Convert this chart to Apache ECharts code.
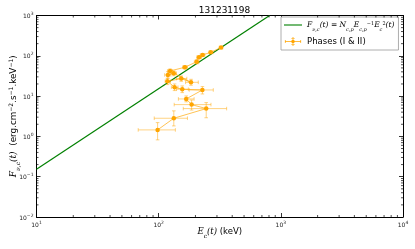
<!DOCTYPE html>
<html><head><meta charset="utf-8">
<script src="https://cdn.jsdelivr.net/npm/echarts@6/dist/echarts.min.js"></script>
<style>html,body{margin:0;padding:0;background:#fff}#c{width:415px;height:249px}</style>
</head><body><div id="c"></div>
<script>
// ---- data ----
const title = '131231198';
const energy = [98, 133, 245, 186, 168, 228, 156, 135, 118, 153, 184, 133, 119, 124, 164, 205, 214, 229, 267, 324];
const flux   = [1.45, 2.82, 4.9, 6.15, 8.5, 14.2, 14.8, 16.6, 23.3, 27.2, 22.0, 36.8, 33.5, 42.1, 51.9, 71.6, 92, 105, 122, 160];
const energyLo = [68, 92, 159, 134, 145, 178, 140, 127, 113, 140, 166, 126, 112, 118, 157, 196, 205, 219, 257, 313];
const energyHi = [137, 172, 360, 268, 195, 280, 175, 144, 125, 170, 211, 140, 126, 130, 172, 214, 224, 239, 278, 335];
const fluxLo = [0.82, 1.82, 2.9, 4.5, 7.2, 11.3, 12.2, 13.7, 19.3, 23.3, 18.6, 32, 27.7, 38, 47, 63, 85, 98, 114, 150];
const fluxHi = [2.2, 4.3, 6.9, 8.0, 10.1, 17.2, 17.9, 20, 27.7, 31.6, 26.1, 42, 40.4, 47, 57, 80, 100, 112, 130, 170];
const modelE = [10, 809];
const modelF = [0.153, 1000];
const xRange = [10, 10000];
const yRange = [0.01, 1000];
const seriesNames = ['Fmodel', 'Phases (I & II)'];

const ORANGE = '#FFA500', GREEN = '#008000';
const chart = echarts.init(document.getElementById('c'), null, {renderer: 'canvas'});

function expLabel(v) {
  const e = Math.round(Math.log10(v));
  return '{b|10}{e|' + (e < 0 ? '\u2212' + (-e) : e) + '}';
}
const tickRich = {
  b: {fontSize: 6, fontFamily: 'DejaVu Sans', color: '#222', verticalAlign: 'bottom', lineHeight: 8},
  e: {fontSize: 4.5, fontFamily: 'DejaVu Sans', color: '#222', verticalAlign: 'top', lineHeight: 8, padding: [0, 0, 3, 0]}
};
function baseAxis(type, extra) {
  return Object.assign({
    type: 'log', logBase: 10,
    axisLine: {show: true, onZero: false, lineStyle: {color: '#000', width: 1}},
    axisTick: {show: true, inside: true, length: 4, lineStyle: {color: '#000', width: 0.8}},
    splitLine: {show: false},
    minorTick: {show: false},
    nameMoveOverlap: false
  }, extra);
}

const errData = energy.map((e, i) => [e, flux[i], energyLo[i], energyHi[i], fluxLo[i], fluxHi[i]]);

// minor ticks (2..9 x 10^k) for log axes
function minorVals(r) {
  const out = [];
  for (let k = Math.round(Math.log10(r[0])); k < Math.round(Math.log10(r[1])); k++)
    for (let m = 2; m <= 9; m++) out.push(m * Math.pow(10, k));
  return out;
}

const option = {
  animation: false,
  backgroundColor: '#fff',
  title: {text: title, left: 219.5, textAlign: 'center', top: 1,
    textStyle: {fontSize: 9, fontWeight: 'normal', fontFamily: 'DejaVu Sans', color: '#000'}},
  grid: {left: 36.5, top: 15.5, right: 12, bottom: 32, containLabel: false, outerBoundsMode: 'none'},
  xAxis: [
    baseAxis('x', {min: xRange[0], max: xRange[1], position: 'bottom',
      axisLabel: {show: true, formatter: expLabel, rich: tickRich, margin: 3},
      name: '{i|E}{s|c}{i|(t)}{n| (keV)}', nameLocation: 'middle', nameGap: 10,
      nameTextStyle: {verticalAlign: 'top', rich: {
        i: {fontSize: 8.5, fontFamily: 'DejaVu Serif', fontStyle: 'italic', color: '#000'},
        s: {fontSize: 6, fontFamily: 'DejaVu Serif', fontStyle: 'italic', color: '#000', verticalAlign: 'bottom', padding: [0, 0, -3, 0]},
        n: {fontSize: 8.5, fontFamily: 'DejaVu Sans', color: '#000'}
      }}}),
    baseAxis('x', {min: xRange[0], max: xRange[1], position: 'top', axisLabel: {show: false}})
  ],
  yAxis: [
    baseAxis('y', {min: yRange[0], max: yRange[1], position: 'left',
      axisLabel: {show: true, formatter: expLabel, rich: tickRich, margin: 3},
      name: '{i|F}{s|\u03bd,c}{i|(t)}{n|  (erg.cm}{u|\u22122}{n|.s}{u|\u22121}{n|.keV}{u|\u22121}{n|)}',
      nameLocation: 'middle', nameRotate: 90, nameGap: 18,
      nameTextStyle: {rich: {
        i: {fontSize: 9, fontFamily: 'DejaVu Serif', fontStyle: 'italic', color: '#000'},
        s: {fontSize: 6, fontFamily: 'DejaVu Serif', fontStyle: 'italic', color: '#000', verticalAlign: 'bottom', padding: [0, 0, -3, 0]},
        n: {fontSize: 8.8, fontFamily: 'DejaVu Sans', color: '#000'},
        u: {fontSize: 6, fontFamily: 'DejaVu Sans', color: '#000', verticalAlign: 'top', padding: [0, 0, 4, 0]}
      }}}),
    baseAxis('y', {min: yRange[0], max: yRange[1], position: 'right', axisLabel: {show: false}})
  ],
  legend: {
    orient: 'vertical', left: 281, top: 17, width: 118,
    backgroundColor: '#fff', borderColor: '#999', borderWidth: 0.8, borderRadius: 0,
    padding: [4, 4, 4, 3], itemGap: 5, itemWidth: 18, itemHeight: 9,
    data: [
      {name: seriesNames[0], icon: 'path://M0,0 H18 V1.1 H0 Z', itemStyle: {color: GREEN}},
      {name: seriesNames[1], icon: 'path://M0,4.5 H18 V5.4 H0 Z M8.55,0 H9.45 V10 H8.55 Z M0,3.2 H0.8 V6.8 H0 Z M17.2,3.2 H18 V6.8 H17.2 Z M7,1 H11 V1.7 H7 Z M7,8.3 H11 V9 H7 Z M9,3 A2,2 0 1 1 8.99,3 Z', itemStyle: {color: ORANGE}}
    ],
    formatter: function (n) {
      if (n === seriesNames[0])
        return '{i|F}{s|\u03bd,c}{i|(t) = N}{s|c,p}{i|E}{s|c,p}{u|\u22121}{i|E}{s|c}{u|2}{i|(t)}';
      return '{n|' + n + '}';
    },
    textStyle: {rich: {
      i: {fontSize: 7.5, fontFamily: 'DejaVu Serif', fontStyle: 'italic', color: '#000'},
      s: {fontSize: 5, fontFamily: 'DejaVu Serif', fontStyle: 'italic', color: '#000', verticalAlign: 'bottom', padding: [0, 0, -3, 0]},
      u: {fontSize: 5, fontFamily: 'DejaVu Serif', color: '#000', verticalAlign: 'top', padding: [0, 0, 3, 0]},
      n: {fontSize: 8.5, fontFamily: 'DejaVu Sans', color: '#000'}
    }}
  },
  series: [
    {
      name: seriesNames[0], type: 'line', xAxisIndex: 0, yAxisIndex: 0,
      data: modelE.map((e, i) => [e, modelF[i]]), symbol: 'none',
      lineStyle: {color: GREEN, width: 1.2}, itemStyle: {color: GREEN}, clip: true, z: 3
    },
    {
      name: 'errbars', type: 'custom', xAxisIndex: 0, yAxisIndex: 0, data: errData,
      encode: {x: 0, y: 1}, z: 4,
      renderItem: function (params, api) {
        const c = api.coord([api.value(0), api.value(1)]);
        const xl = api.coord([api.value(2), api.value(1)])[0];
        const xh = api.coord([api.value(3), api.value(1)])[0];
        const yl = api.coord([api.value(0), api.value(4)])[1];
        const yh = api.coord([api.value(0), api.value(5)])[1];
        const cap = 1.8;
        const st = {stroke: ORANGE, lineWidth: 0.9, opacity: 0.55};
        const L = (x1, y1, x2, y2) => ({type: 'line', shape: {x1, y1, x2, y2}, style: st});
        return {type: 'group', children: [
          L(xl, c[1], xh, c[1]), L(c[0], yl, c[0], yh),
          L(xl, c[1] - cap, xl, c[1] + cap), L(xh, c[1] - cap, xh, c[1] + cap),
          L(c[0] - cap, yl, c[0] + cap, yl), L(c[0] - cap, yh, c[0] + cap, yh)
        ]};
      }
    },
    {
      name: seriesNames[1], type: 'line', xAxisIndex: 0, yAxisIndex: 0,
      data: energy.map((e, i) => [e, flux[i]]),
      symbol: 'circle', symbolSize: 4.5, showSymbol: true,
      lineStyle: {color: ORANGE, width: 0.9, opacity: 0.75},
      itemStyle: {color: ORANGE, borderWidth: 0}, z: 5
    },
    {
      name: 'minorTicks', type: 'custom', xAxisIndex: 0, yAxisIndex: 0, data: [[xRange[0], yRange[0]]],
      silent: true, z: 6, clip: false,
      renderItem: function (params, api) {
        const cs = params.coordSys;
        const kids = [];
        const st = {stroke: '#000', lineWidth: 0.7};
        const len = 2;
        minorVals(xRange).forEach(v => {
          const x = api.coord([v, yRange[0]])[0];
          kids.push({type: 'line', shape: {x1: x, y1: cs.y + cs.height, x2: x, y2: cs.y + cs.height - len}, style: st});
          kids.push({type: 'line', shape: {x1: x, y1: cs.y, x2: x, y2: cs.y + len}, style: st});
        });
        minorVals(yRange).forEach(v => {
          const y = api.coord([xRange[0], v])[1];
          kids.push({type: 'line', shape: {x1: cs.x, y1: y, x2: cs.x + len, y2: y}, style: st});
          kids.push({type: 'line', shape: {x1: cs.x + cs.width, y1: y, x2: cs.x + cs.width - len, y2: y}, style: st});
        });
        return {type: 'group', children: kids};
      }
    }
  ]
};
chart.setOption(option);
</script></body></html>
